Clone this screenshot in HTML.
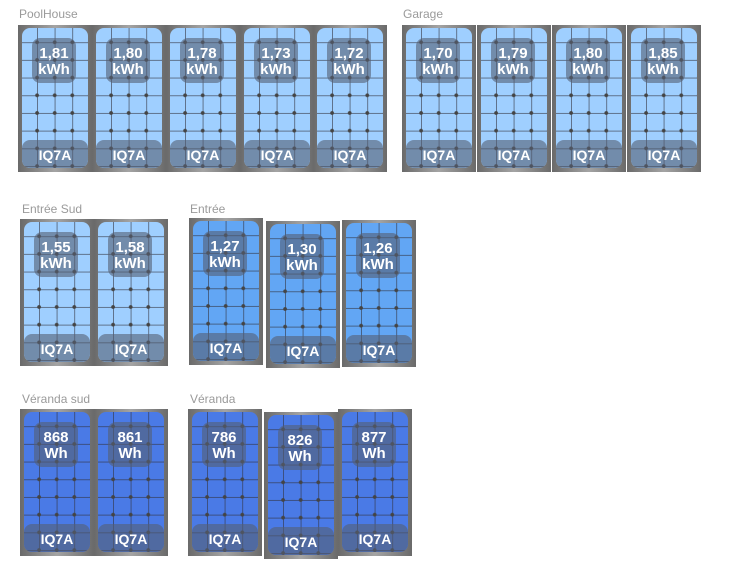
<!DOCTYPE html>
<html><head><meta charset="utf-8"><style>
body{margin:0;width:729px;height:573px;background:#fff;position:relative;overflow:hidden;font-family:"Liberation Sans",sans-serif}
.l{position:absolute;font-size:12px;color:#9a9a9a}
.p{position:absolute;width:74px;height:147px;background:linear-gradient(90deg,#6a6a6a,#a4a4a4 50%,#6a6a6a)}
.i{position:absolute;left:4px;top:3px;right:4px;bottom:4px;border-radius:8px;overflow:hidden;
background-image:radial-gradient(circle,#444 1.6px,transparent 2.2px),linear-gradient(90deg,rgba(50,50,60,.6) 1px,transparent 1px),linear-gradient(180deg,rgba(50,50,60,.6) 1px,transparent 1px);
background-size:17.6px 17.7px;background-position:-11.3px -12.3px,-2.6px -3.5px,-2.6px -3.5px}
.a .i{background-color:#9fcfff}.b .i{background-color:#62a6f4}.c .i{background-color:#4a7ae6}
.v{position:absolute;left:10px;top:10px;width:44px;height:45px;border-radius:8px;background:rgba(85,95,115,.6);color:#fff;font-weight:bold;font-size:15px;line-height:16px;text-align:center;display:flex;flex-direction:column;justify-content:center;padding-top:2px;box-sizing:border-box}
.q{position:absolute;left:0;right:0;bottom:0;height:28px;border-radius:8px;background:rgba(85,95,115,.6);color:#fff;font-weight:bold;font-size:14px;line-height:30px;text-align:center}
</style></head><body>
<div class="l" style="left:19px;top:7px">PoolHouse</div>
<div class="l" style="left:403px;top:7px">Garage</div>
<div class="l" style="left:22px;top:202px">Entrée Sud</div>
<div class="l" style="left:190px;top:202px">Entrée</div>
<div class="l" style="left:22px;top:392px">Véranda sud</div>
<div class="l" style="left:190px;top:392px">Véranda</div>

<div class="p a" style="left:18px;top:25px"><div class="i"><div class="v"><span>1,81</span><span>kWh</span></div><div class="q">IQ7A</div></div></div>
<div class="p a" style="left:92px;top:25px"><div class="i"><div class="v"><span>1,80</span><span>kWh</span></div><div class="q">IQ7A</div></div></div>
<div class="p a" style="left:166px;top:25px"><div class="i"><div class="v"><span>1,78</span><span>kWh</span></div><div class="q">IQ7A</div></div></div>
<div class="p a" style="left:240px;top:25px"><div class="i"><div class="v"><span>1,73</span><span>kWh</span></div><div class="q">IQ7A</div></div></div>
<div class="p a" style="left:313px;top:25px"><div class="i"><div class="v"><span>1,72</span><span>kWh</span></div><div class="q">IQ7A</div></div></div>

<div class="p a" style="left:402px;top:25px"><div class="i"><div class="v"><span>1,70</span><span>kWh</span></div><div class="q">IQ7A</div></div></div>
<div class="p a" style="left:477px;top:25px"><div class="i"><div class="v"><span>1,79</span><span>kWh</span></div><div class="q">IQ7A</div></div></div>
<div class="p a" style="left:552px;top:25px"><div class="i"><div class="v"><span>1,80</span><span>kWh</span></div><div class="q">IQ7A</div></div></div>
<div class="p a" style="left:627px;top:25px"><div class="i"><div class="v"><span>1,85</span><span>kWh</span></div><div class="q">IQ7A</div></div></div>

<div class="p a" style="left:20px;top:219px"><div class="i"><div class="v"><span>1,55</span><span>kWh</span></div><div class="q">IQ7A</div></div></div>
<div class="p a" style="left:94px;top:219px"><div class="i"><div class="v"><span>1,58</span><span>kWh</span></div><div class="q">IQ7A</div></div></div>

<div class="p b" style="left:189px;top:218px"><div class="i"><div class="v"><span>1,27</span><span>kWh</span></div><div class="q">IQ7A</div></div></div>
<div class="p b" style="left:266px;top:221px"><div class="i"><div class="v"><span>1,30</span><span>kWh</span></div><div class="q">IQ7A</div></div></div>
<div class="p b" style="left:342px;top:220px"><div class="i"><div class="v"><span>1,26</span><span>kWh</span></div><div class="q">IQ7A</div></div></div>

<div class="p c" style="left:20px;top:409px"><div class="i"><div class="v"><span>868</span><span>Wh</span></div><div class="q">IQ7A</div></div></div>
<div class="p c" style="left:94px;top:409px"><div class="i"><div class="v"><span>861</span><span>Wh</span></div><div class="q">IQ7A</div></div></div>

<div class="p c" style="left:188px;top:409px"><div class="i"><div class="v"><span>786</span><span>Wh</span></div><div class="q">IQ7A</div></div></div>
<div class="p c" style="left:264px;top:412px"><div class="i"><div class="v"><span>826</span><span>Wh</span></div><div class="q">IQ7A</div></div></div>
<div class="p c" style="left:338px;top:409px"><div class="i"><div class="v"><span>877</span><span>Wh</span></div><div class="q">IQ7A</div></div></div>
</body></html>
